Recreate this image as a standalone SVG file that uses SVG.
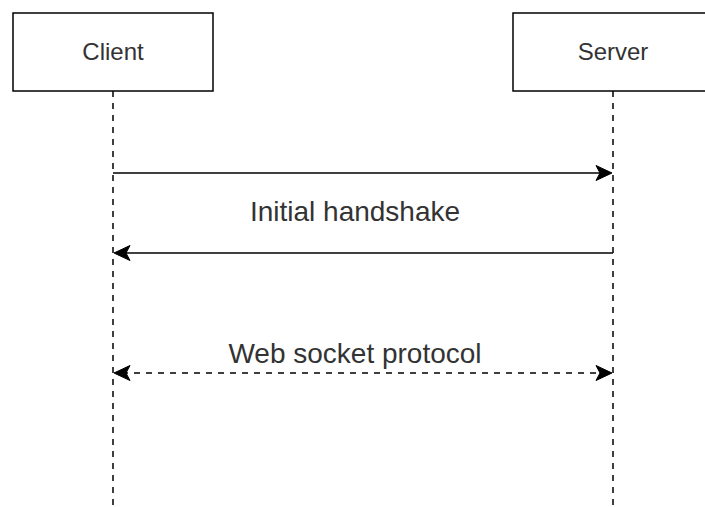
<svg xmlns="http://www.w3.org/2000/svg" width="705" height="507" viewBox="0 0 705 507">
<style>
.box{fill:#fff;stroke:#000;stroke-width:1.5}
.life{stroke:#000;stroke-width:1.5;stroke-dasharray:6 6;fill:none}
.msg{stroke:#000;stroke-width:1.5;fill:none}
.dmsg{stroke:#000;stroke-width:1.5;fill:none;stroke-dasharray:6 6}
.t{font-family:"Liberation Sans",Arial,sans-serif;fill:#333;text-anchor:middle}
.head{fill:#000;stroke:#000;stroke-width:1}
</style>
<rect width="705" height="507" fill="#fff"/>
<g id="client">
<rect class="box" x="13" y="13" width="200" height="78"/>
<text class="t" x="113" y="60" font-size="24">Client</text>
<line class="life" x1="113" y1="91" x2="113" y2="507"/>
</g>
<g id="server">
<rect class="box" x="513" y="13" width="200" height="78"/>
<text class="t" x="613" y="60" font-size="24">Server</text>
<line class="life" x1="613" y1="91" x2="613" y2="507"/>
</g>
<g id="connectors">
<line class="msg" x1="113" y1="173" x2="604" y2="173"/>
<path class="head" d="M612,173 L596,165.5 L600,173 L596,180.5 Z"/>
<line class="msg" x1="613" y1="253" x2="122" y2="253"/>
<path class="head" d="M114,253 L130,245.5 L126,253 L130,260.5 Z"/>
<text class="t" x="355" y="221" font-size="28">Initial handshake</text>
<line class="dmsg" x1="122" y1="373" x2="604" y2="373"/>
<path class="head" d="M612,373 L596,365.5 L600,373 L596,380.5 Z"/>
<path class="head" d="M114,373 L130,365.5 L126,373 L130,380.5 Z"/>
<text class="t" x="355" y="363" font-size="28">Web socket protocol</text>
</g>
</svg>
